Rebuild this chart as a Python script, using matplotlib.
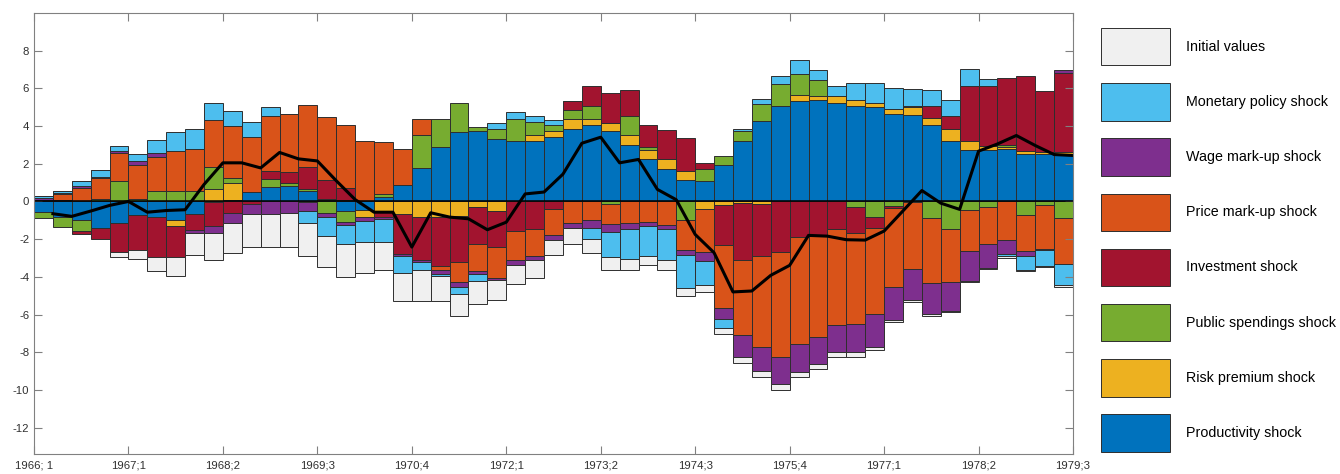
import numpy as np
import matplotlib.pyplot as plt

plt.rcParams['font.family'] = ['Liberation Sans', 'DejaVu Sans']
plt.rcParams['axes.unicode_minus'] = False

# historical shock decomposition, 1966Q1 - 1979Q3
tick_labels = ['1966; 1', '1967;1', '1968;2', '1969;3', '1970;4', '1972;1',
               '1973;2', '1974;3', '1975;4', '1977;1', '1978;2', '1979;3']

productivity = [-0.55, -0.8, -1.0, -1.4, -1.15, -0.74, -0.83, -1.0, -0.65, -0.05,
                0.1, 0.5, 0.76, 0.8, 0.55, 0.1, -0.48, -0.44, 0.25, 0.85,
                1.8, 2.9, 3.71, 3.76, 3.29, 3.23, 3.2, 3.41, 3.85, 4.08,
                3.73, 3.02, 2.26, 1.73, 1.15, 1.08, 1.91, 3.2, 4.26, 5.06,
                5.35, 5.39, 5.25, 5.09, 5.02, 4.63, 4.61, 4.06, 3.2, 2.72,
                2.72, 2.8, 2.5, 2.5, 2.44]
risk_premium = [0, 0, 0, 0, 0.05, 0.05, 0, -0.3, 0, 0.67,
                0.9, 0, 0, 0, -0.05, 0.05, 0.1, -0.4, -0.51, -0.69,
                -0.83, -0.8, -0.75, -0.28, -0.51, 0, 0.3, 0.32, 0.53, 0.3,
                0.42, 0.53, 0.48, 0.53, 0.49, -0.4, -0.18, -0.08, -0.12, 0,
                0.3, 0.23, 0.33, 0.3, 0.22, 0.27, 0.4, 0.37, 0.67, 0.5,
                0.2, 0.08, 0.18, 0.1, 0.17]
public_spending = [-0.35, -0.55, -0.55, 0.14, 1.06, 0.1, 0.53, 0.58, 0.55, 1.15,
                   0.25, 0, 0.45, 0.18, 0.12, -0.6, -0.6, 0.03, 0.15, 0,
                   1.72, 1.45, 1.5, 0.21, 0.56, 1.15, 0.74, 0.35, 0.48, 0.67,
                   -0.12, 1.01, 0.14, 0, -0.97, 0.65, 0.49, 0.53, 0.9, 1.18,
                   1.1, 0.8, 0, -0.3, -0.8, -0.25, -0.05, -0.87, -1.47, -0.46,
                   -0.27, 0.14, -0.7, -0.21, -0.87]
investment = [0.1, 0.1, -0.17, -0.58, -1.54, -1.82, -2.12, -1.65, -0.89, -1.25,
              -0.6, -0.12, 0.4, 0.6, 1.18, 1.0, 0.6, 0, -0.32, -2.1,
              -2.3, -2.6, -2.45, -1.97, -1.91, -1.55, -1.45, -0.39, 0.49, 1.1,
              1.59, 1.36, 1.18, 1.54, 1.72, 0.3, -2.15, -3.05, -2.78, -2.69,
              -1.89, -1.8, -1.47, -1.38, -0.63, -0.12, 0.08, 0.62, 0.65, 2.9,
              3.18, 3.53, 4.0, 3.25, 4.21]
price_markup = [0, 0.3, 0.72, 1.1, 1.45, 1.76, 1.82, 2.12, 2.26, 2.5,
                2.75, 2.9, 2.95, 3.08, 3.25, 3.32, 3.36, 3.2, 2.74, 1.94,
                0.83, -0.22, -1.07, -1.42, -1.63, -1.53, -1.47, -1.41, -1.12, -1.0,
                -1.06, -1.15, -1.1, -1.24, -1.59, -2.3, -3.3, -3.97, -4.8, -5.55,
                -5.65, -5.38, -5.1, -4.84, -4.55, -4.17, -3.52, -3.46, -2.82, -2.18,
                -2.0, -2.07, -1.93, -2.3, -2.43]
wage_markup = [0.06, 0.04, 0.08, 0.06, 0.14, 0.23, 0.23, 0, -0.14, -0.38,
               -0.55, -0.53, -0.68, -0.6, -0.45, -0.25, -0.18, -0.2, -0.12, -0.08,
               -0.1, -0.25, -0.25, -0.2, -0.14, -0.28, -0.21, -0.27, -0.28, -0.41,
               -0.45, -0.3, -0.21, -0.21, -0.27, -0.45, -0.62, -1.15, -1.3, -1.45,
               -1.5, -1.42, -1.43, -1.47, -1.72, -1.73, -1.64, -1.62, -1.5, -1.56,
               -1.24, -0.71, -0.29, -0.05, 0.16]
monetary = [0.12, 0.14, 0.3, 0.38, 0.22, 0.39, 0.69, 1.01, 1.01, 0.88,
            0.8, 0.8, 0.45, 0, -0.65, -0.97, -1.0, -1.1, -1.2, -0.9,
            -0.4, -0.1, -0.38, -0.35, 0.3, 0.39, 0.32, 0.25, 0, -0.6,
            -1.32, -1.59, -1.61, -1.68, -1.75, -1.3, -0.45, 0.12, 0.28, 0.44,
            0.76, 0.57, 0.53, 0.88, 1.05, 1.13, 0.88, 0.89, 0.87, 0.9,
            0.38, -0.14, -0.7, -0.88, -1.15]
initial = [0, 0, 0, 0, -0.28, -0.51, -0.74, -1.03, -1.18, -1.45,
           -1.58, -1.77, -1.75, -1.82, -1.77, -1.68, -1.75, -1.68, -1.5, -1.5,
           -1.65, -1.3, -1.2, -1.2, -1.02, -1.0, -0.92, -0.79, -0.85, -0.71,
           -0.67, -0.62, -0.47, -0.53, -0.46, -0.35, -0.35, -0.33, -0.3, -0.29,
           -0.3, -0.27, -0.25, -0.26, -0.2, -0.13, -0.13, -0.15, -0.08, -0.1,
           -0.07, -0.07, -0.07, -0.06, -0.09]
# observed series (black line)
observed = [-0.65, -0.79, -0.51, -0.21, 0.0, -0.57, -0.48, -0.44, 0.9, 2.05,
            2.05, 1.78, 2.6, 2.26, 2.15, 1.1, 0.1, -0.57, -0.57, -2.42,
            -0.6, -0.83, -0.92, -1.5, -1.1, 0.4, 0.5, 1.45, 3.09, 3.41,
            2.05, 2.23, 0.64, 0.09, -1.75, -2.72, -4.8, -4.75, -3.92, -3.39,
            -1.8, -1.84, -2.03, -2.05, -1.57, -0.5, 0.58, -0.09, -0.42, 2.67,
            3.05, 3.5, 2.97, 2.49, 2.44]

# stacked from zero outwards
shocks = [
    ('Productivity shock', productivity, '#0072BD'),
    ('Risk premium shock', risk_premium, '#EDB120'),
    ('Public spendings shock', public_spending, '#77AC30'),
    ('Investment shock', investment, '#A2142F'),
    ('Price mark-up shock', price_markup, '#D95319'),
    ('Wage mark-up shock', wage_markup, '#7E2F8E'),
    ('Monetary policy shock', monetary, '#4DBEEE'),
    ('Initial values', initial, '#F0F0F0'),
]

n = len(observed)
x = np.arange(n)

fig = plt.figure(figsize=(13.4, 4.74), dpi=100)
ax = fig.add_axes([34 / 1340, 1 - 454 / 474, (1073 - 34) / 1340, (454 - 13) / 474])

pos = np.zeros(n)
neg = np.zeros(n)
handles = {}
for name, vals, col in shocks:
    v = np.asarray(vals, dtype=float)
    bottom = np.where(v >= 0, pos, neg)
    handles[name] = ax.bar(x, v, bottom=bottom, width=1.0, color=col,
                           edgecolor='#2e2e2e', linewidth=0.7)
    pos = pos + np.where(v >= 0, v, 0)
    neg = neg + np.where(v < 0, v, 0)

ax.axhline(0, color='black', linewidth=1.1)
ax.plot(x + 0.5, observed, color='black', linewidth=2.2)

ax.set_xlim(-0.5, n - 0.5)
ax.set_ylim(-13.4, 10)
ax.set_yticks(np.arange(-12, 9, 2))
ax.set_xticks(np.arange(len(tick_labels)) * 5 - 0.5)
ax.set_xticklabels(tick_labels)
for s in ax.spines.values():
    s.set_color('#808080')
ax.tick_params(direction='in', length=6, width=0.8, color='#808080',
               labelsize=8.2, labelcolor='#303030', top=True, right=True)
ax.tick_params(axis='x', pad=5)

order = ['Initial values', 'Monetary policy shock', 'Wage mark-up shock',
         'Price mark-up shock', 'Investment shock', 'Public spendings shock',
         'Risk premium shock', 'Productivity shock']
fig.legend([handles[k] for k in order], order, loc='upper left',
           bbox_to_anchor=(1101 / 1340, 1 - 28 / 474), frameon=False,
           borderpad=0, borderaxespad=0, fontsize=10.3, handlelength=4.8,
           handleheight=3.65, labelspacing=1.24, handletextpad=1.15)

fig.savefig('out.png', dpi=100)
